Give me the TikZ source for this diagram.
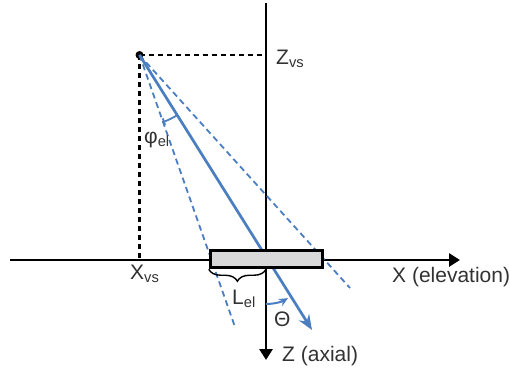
\documentclass[tikz,border=0pt]{standalone}
\usepackage{fontspec}
\setmainfont{Liberation Sans}
\usetikzlibrary{arrows.meta,decorations.pathreplacing}
\definecolor{raycol}{RGB}{74,126,193}
\definecolor{txtcol}{RGB}{50,50,50}
\begin{document}
\begin{tikzpicture}[x=1pt, y=1pt,
    axis/.style={line width=2.7pt, -{Triangle[length=11pt,width=13pt]}},
    guide/.style={line width=2.2pt, dash pattern=on 5pt off 4pt},
    beam/.style={raycol, line width=1.8pt, dash pattern=on 6pt off 4pt},
    lbl/.style={text=txtcol, font=\fontsize{21}{24}\selectfont, inner sep=0pt, anchor=west}]
    \useasboundingbox (0,0) rectangle (510,375);

    % Points
    \coordinate (src) at (139.5,320);
    \coordinate (O) at (266,115);
    \coordinate (ztop) at (266,372);
    \coordinate (zend) at (266,15);
    \coordinate (xstart) at (10,115);
    \coordinate (xend) at (460,115);
    \coordinate (tip) at (312,45);
    \coordinate (lend) at (235,48);
    \coordinate (rend) at (350,87);

    % Axes
    \draw[axis] (ztop) -- (zend);
    \draw[axis] (xstart) -- (xend);

    % Virtual source projections
    \draw[guide] (src) -- (src -| O);
    \draw[guide] (src) -- (src |- O);
    \fill (src) circle (4pt);

    % Beam
    \draw[beam] (src) -- (lend);
    \draw[beam] (src) -- (rend);
    \draw[raycol, line width=2.7pt, -{Stealth[length=15pt,width=12pt]}] (src) -- (tip);

    % Angles
    \draw[raycol, line width=1.8pt, {Bar[width=7pt]}-] ([shift={(-70.6:71)}]src) arc[start angle=-70.6, end angle=-57.9, radius=71];
    \draw[raycol, line width=2pt, -{Stealth[length=9pt,width=8pt]}] ([shift={(-90:44)}]O) arc[start angle=-90, end angle=-60, radius=44];

    % Element
    \node[draw, line width=3pt, fill=gray!30, minimum width=112.5pt, minimum height=17.5pt, inner sep=0pt] (elem) at (266.5,116) {};
    \draw[line width=1.4pt, decorate, decoration={brace, mirror, amplitude=12pt}] (elem.south west) -- (elem.south -| O);

    % Labels
    \node[lbl] (zvs) at (276,316) {Z\textsubscript{vs}};
    \node[lbl] (xvs) at (130,101) {X\textsubscript{vs}};
    \node[lbl] (xlbl) at (392,98) {X (elevation)};
    \node[lbl] (zlbl) at (282,19) {Z (axial)};
    \node[lbl] (lel) at (232,76) {L\textsubscript{el}};
    \node[lbl] (phi) at (144,235) {φ\textsubscript{el}};
    \node[lbl] (theta) at (274,56) {Θ};
\end{tikzpicture}
\end{document}
